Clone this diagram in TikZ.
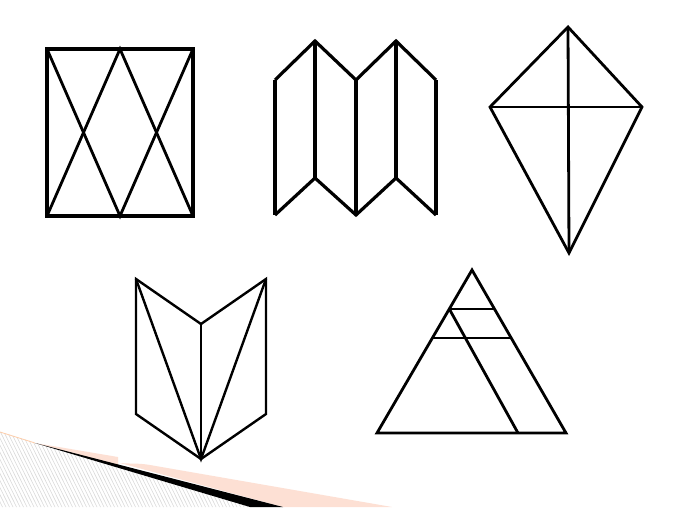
\documentclass[tikz,border=0pt]{standalone}
\usetikzlibrary{calc}
\definecolor{peach}{RGB}{253,224,212}
\definecolor{hatchgray}{RGB}{218,218,218}
\tikzset{
  fig/.style={line width=2.8pt, line join=miter, line cap=butt, black},
  figthin/.style={line width=2.4pt, line join=miter, black},
}
\begin{document}
\begin{tikzpicture}[x=1pt,y=-1pt]
\useasboundingbox (0,0) rectangle (682,507);
\fill[white] (0,0) rectangle (682,507);

% ---- decoration bottom-left ----
\coordinate (hA) at (0,432);
\coordinate (hB) at (250,507);
\coordinate (bA) at (35,443);
\coordinate (bB) at (283,507);
\begin{scope}
  \clip (hA) -- (hB) -- (0,507) -- cycle;
  \foreach \x in {-80,-76.5,...,260}{
    \draw[hatchgray, line width=0.6pt] (\x,425) -- ++(42,85);
  }
\end{scope}
\draw[peach!80!orange, line width=0.8pt] (hA) -- (bA);
\fill[peach] (bA) -- (118,457) -- (118,465) -- cycle;
\fill[peach] (120,463) to[out=-5,in=170] (150,465) -- (392,507) -- (bB) -- cycle;
\fill[black] (bA) -- (bB) -- (hB) -- cycle;

% ---- figure 1: rectangle with diamonds ----
\coordinate (r1) at (47,49);
\coordinate (r2) at (120,49);
\coordinate (r3) at (193,49);
\coordinate (r4) at (47,216);
\coordinate (r5) at (120,216);
\coordinate (r6) at (193,216);
\draw[line width=3.4pt, line join=miter] (r1) rectangle (r6);
\draw[fig] (r1) -- (r5) -- (r3);
\draw[fig] (r4) -- (r2) -- (r6);

% ---- figure 2: folded screen ----
\coordinate (s1) at (275,80);
\coordinate (s2) at (315,41);
\coordinate (s3) at (356,80);
\coordinate (s4) at (396,41);
\coordinate (s5) at (436,80);
\coordinate (t1) at (275,215);
\coordinate (t2) at (315,178);
\coordinate (t3) at (356,215);
\coordinate (t4) at (396,178);
\coordinate (t5) at (436,215);
\draw[line width=3.2pt, line join=miter] (s1) -- (s2) -- (s3) -- (s4) -- (s5);
\draw[line width=3.2pt, line join=miter] (t1) -- (t2) -- (t3) -- (t4) -- (t5);
\foreach \i in {1,...,5}{ \draw[line width=3.2pt] (s\i) -- (t\i); }

% ---- figure 3: kite ----
\coordinate (k1) at (568,27);
\coordinate (k2) at (642,107);
\coordinate (k3) at (569,253);
\coordinate (k4) at (490,107);
\draw[fig] (k1) -- (k2) -- (k3) -- (k4) -- cycle;
\draw[fig] (k1) -- (k3);
\draw[fig] (k4) -- (k2);

% ---- figure 4: arrow-like shape ----
\coordinate (p1) at (136,279);
\coordinate (p2) at (201,324);
\coordinate (p3) at (266,279);
\coordinate (p4) at (266,414);
\coordinate (p5) at (201,459);
\coordinate (p6) at (136,414);
\draw[figthin] (p1) -- (p2) -- (p3) -- (p4) -- (p5) -- (p6) -- cycle;
\draw[figthin] (p2) -- (p5);
\draw[figthin] (p1) -- (p5) -- (p3);

% ---- figure 5: triangle ----
\coordinate (a) at (472,270);
\coordinate (b) at (377,433);
\coordinate (c) at (566,433);
\coordinate (l1) at ($(a)!0.239!(b)$);
\coordinate (r1t) at ($(a)!0.239!(c)$);
\coordinate (l2) at ($(a)!0.417!(b)$);
\coordinate (r2t) at ($(a)!0.417!(c)$);
\coordinate (q) at (518,433);
\draw[fig] (a) -- (b) -- (c) -- cycle;
\draw[fig] (l1) -- (r1t);
\draw[fig] (l2) -- (r2t);
\draw[fig] (l1) -- (q);
\end{tikzpicture}
\end{document}
